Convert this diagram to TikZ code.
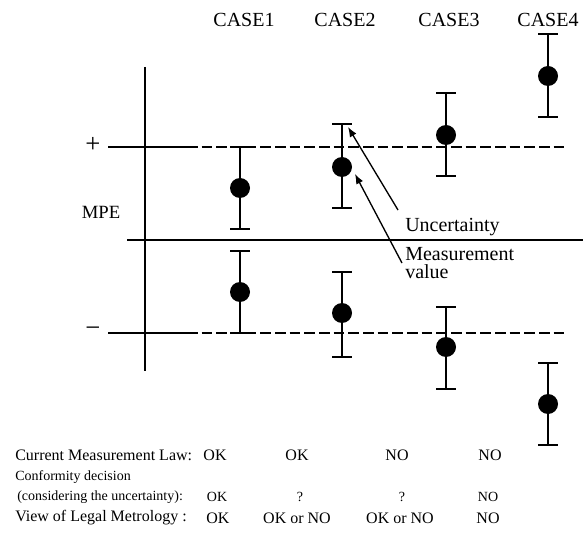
\documentclass[tikz,border=0pt]{standalone}
\usepackage{fontspec}
\setmainfont{Liberation Serif}
\usetikzlibrary{arrows.meta,positioning}

\begin{document}
\begin{tikzpicture}[
    x=0.75pt, y=-0.75pt,
    caselabel/.style={font=\fontsize{15}{17}\selectfont, inner sep=0pt},
    sign/.style={font=\fontsize{20}{22}\selectfont, inner sep=0pt},
    note/.style={font=\fontsize{15}{14}\selectfont, anchor=west, inner sep=0pt, align=left},
    rowlabel/.style={font=\fontsize{12}{14}\selectfont, anchor=west, inner sep=0pt},
    smalllabel/.style={font=\fontsize{10.5}{12}\selectfont, anchor=west, inner sep=0pt},
    verdict/.style={font=\fontsize{12}{14}\selectfont, inner sep=0pt},
    smallverdict/.style={font=\fontsize{10.5}{12}\selectfont, inner sep=0pt},
    axis/.style={line width=1.3pt},
    limit/.style={line width=1.3pt, dash pattern=on 8pt off 3pt},
    errbar/.style={line width=1.2pt},
    pointer/.style={-{Latex[length=2.6mm, width=2mm]}, line width=1pt}
]
    \useasboundingbox (0,0) rectangle (585,534);

    % axes and limits
    \draw[axis] (145,67) -- (145,371);
    \draw[axis] (127,240) -- (583,240);
    \draw[axis] (108,147) -- (187,147);
    \draw[limit] (187,147) -- (565,147);
    \draw[axis] (108,333) -- (187,333);
    \draw[limit] (187,333) -- (565,333);

    \node[sign] (plus) at (93,145) {+};
    \node[sign] (minus) at (93,332) {−};
    \node[font=\fontsize{14}{16}\selectfont, inner sep=0pt] (mpe) at (101,212) {MPE};

    % case labels
    \node[caselabel] (case1) at (244,20) {CASE1};
    \node[caselabel] (case2) at (345,20) {CASE2};
    \node[caselabel] (case3) at (449,20) {CASE3};
    \node[caselabel] (case4) at (548,20) {CASE4};

    % error bars: x / top / value / bottom
    \foreach \cx/\ya/\yb/\yc in {240/147/188/229, 240/251/292/333,
        342/124/167/208, 342/272/313/357, 446/93/135/176, 446/307/347/389,
        548/34/76/117, 548/363/404/445} {
        \draw[errbar] (\cx-10,\ya) -- (\cx+10,\ya) (\cx,\ya) -- (\cx,\yc)
            (\cx-10,\yc) -- (\cx+10,\yc);
        \fill (\cx,\yb) circle[radius=7.5pt];
    }

    % pointers
    \node[note] (unc) at (405,227) {Uncertainty};
    \node[note] (val) at (405,263) {Measurement\\value};
    \coordinate (uncTail) at (398,210);
    \coordinate (uncTip) at (348,127);
    \coordinate (valTail) at (402,263);
    \coordinate (valTip) at (355,174);
    \draw[pointer] (uncTail) -- (uncTip);
    \draw[pointer] (valTail) -- (valTip);

    % decisions
    \node[rowlabel] (law) at (15,455) {Current Measurement Law:};
    \node[smalllabel] (conf) at (15,477) {Conformity decision};
    \node[smalllabel] (cons) at (17,497) {(considering the uncertainty):};
    \node[rowlabel] (view) at (15,518) {View of Legal Metrology :};

    \node[verdict] (law1) at (215,455) {OK};
    \node[verdict] (law2) at (297,455) {OK};
    \node[verdict] (law3) at (397,455) {NO};
    \node[verdict] (law4) at (490,455) {NO};
    \node[smallverdict] (cons1) at (217,497) {OK};
    \node[smallverdict] (cons2) at (300,497) {?};
    \node[smallverdict] (cons3) at (402,497) {?};
    \node[smallverdict] (cons4) at (488,497) {NO};
    \node[verdict] (view1) at (218,518) {OK};
    \node[verdict] (view2) at (297,518) {OK or NO};
    \node[verdict] (view3) at (400,518) {OK or NO};
    \node[verdict] (view4) at (488,518) {NO};
\end{tikzpicture}
\end{document}
